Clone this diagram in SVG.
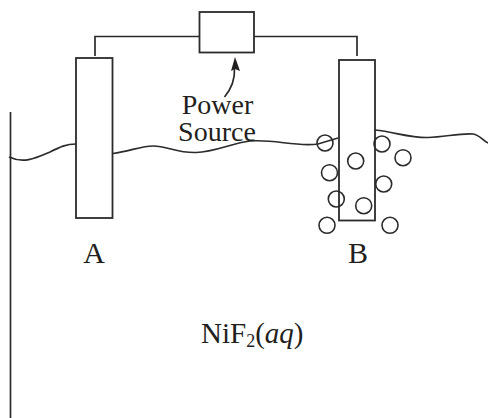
<svg xmlns="http://www.w3.org/2000/svg" width="488" height="418" viewBox="0 0 488 418">
<style>
.l{fill:none;stroke:#2b2b2b;stroke-width:1.7}
.b{fill:#fff;stroke:#2b2b2b;stroke-width:1.8}
.c{fill:none;stroke:#2b2b2b;stroke-width:1.6}
text{font-family:"Liberation Serif","Times New Roman",serif;fill:#231f20;font-size:28px}
</style>
<rect width="488" height="418" fill="#fff"/>
<g id="connectors">
<path class="l" d="M10.500 112V418"/>
<path class="l" d="M9 157C24 164 36 158 50 152C60 147 66 144 76 144"/>
<path class="l" d="M113 153.500C130 151 142 146 153 146C168 146 176 153 196 152.500C215 152 232 143 250 141C275 139 295 147 318 144L338 138"/>
<path class="l" d="M375 130C395 132 410 138 428 137.500C445 137 460 133 473 134C480 135 483 141 488 143"/>
<path class="l" d="M95 56V36.500H199"/>
<path class="l" d="M254 36.500H357V56"/>
<path class="l" d="M224.500 97C232 88 235 78 234.500 68" stroke-width="1.500"/>
<path d="M235 57L240 71L235 69L231 71Z" fill="#231f20"/>
</g>
<g id="electrode-a"><rect class="b" x="76" y="58" width="36.500" height="160"/></g>
<g id="electrode-b"><rect class="b" x="339" y="60" width="36" height="160.500"/></g>
<g id="power-source"><rect class="b" x="199.500" y="12" width="54.500" height="40.500"/></g>
<g id="bubbles">
<circle class="c" cx="325" cy="143" r="8"/>
<circle class="c" cx="355.700" cy="161" r="8"/>
<circle class="c" cx="329.500" cy="172.700" r="8"/>
<circle class="c" cx="382" cy="144" r="8"/>
<circle class="c" cx="403" cy="157.700" r="8"/>
<circle class="c" cx="383.700" cy="184" r="8"/>
<circle class="c" cx="336.300" cy="199" r="8"/>
<circle class="c" cx="363.700" cy="205.700" r="8"/>
<circle class="c" cx="327" cy="225.300" r="8"/>
<circle class="c" cx="390" cy="225.300" r="8"/>
</g>
<g id="labels">
<text x="217.500" y="114" text-anchor="middle">Power</text>
<text x="217" y="141" text-anchor="middle">Source</text>
<text x="94" y="263" text-anchor="middle" style="font-size:30px">A</text>
<text x="358" y="263" text-anchor="middle" style="font-size:30px">B</text>
<text x="201" y="343" style="font-size:29px">NiF<tspan font-size="18" dy="4">2</tspan><tspan dy="-4">(</tspan><tspan font-style="italic">aq</tspan>)</text>
</g>
</svg>
